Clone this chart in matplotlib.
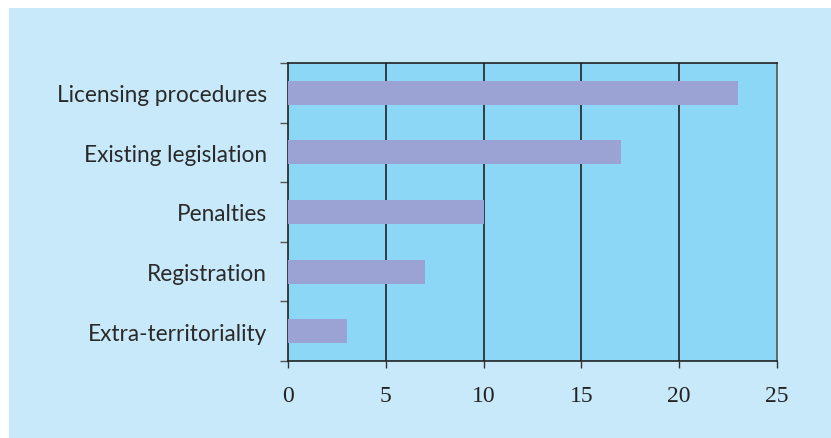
import matplotlib
matplotlib.use("Agg")
import matplotlib.pyplot as plt
from matplotlib.patches import Rectangle

categories = ["Licensing procedures", "Existing legislation", "Penalties",
              "Registration", "Extra-territoriality"]
values = [23, 17, 10, 7, 3]
xticks = [0, 5, 10, 15, 20, 25]

W, H = 831, 439
fig = plt.figure(figsize=(W / 100, H / 100), dpi=100)
fig.patch.set_facecolor("white")
# light-blue panel behind the chart, leaving a thin white margin top/left
fig.add_artist(Rectangle((9 / W, -0.01), 1.1, 1.01 - 9 / H, transform=fig.transFigure,
                         facecolor="#c8e9f9", edgecolor="none", zorder=-10))

ax = fig.add_axes([288 / W, 1 - 362 / H, (777 - 288) / W, (362 - 64) / H])
ax.set_facecolor("#8dd7f6")

n = len(categories)
ypos = list(range(n))[::-1]
ax.barh(ypos, values, height=0.4, color="#9aa3d4", zorder=3)

ax.set_xlim(0, 25)
ax.set_ylim(-0.5, n - 0.5)
ax.set_xticks(xticks)
ax.set_xticklabels([str(t) for t in xticks], fontfamily="Liberation Serif",
                   fontsize=17, color="#222222")
ax.tick_params(axis="x", length=5, width=1, color="#333333", pad=12)

ax.set_yticks([y + 0.5 for y in range(-1, n)])
ax.set_yticklabels([])
ax.set_yticks(ypos, minor=True)
ax.set_yticklabels(categories, minor=True, fontfamily="Lato",
                   fontsize=16.3, color="#2a2a2a")
ax.tick_params(axis="y", which="major", length=6, width=1, color="#555555")
ax.tick_params(axis="y", which="minor", length=0, pad=15)

for x in xticks[1:-1]:
    ax.axvline(x, color="#222222", lw=1.2, zorder=2)

for side in ["left", "bottom", "top"]:
    ax.spines[side].set_color("#222222")
    ax.spines[side].set_linewidth(1.2)
ax.spines["right"].set_color("#555555")
ax.spines["right"].set_linewidth(1.2)

fig.savefig("out.png", dpi=100)
